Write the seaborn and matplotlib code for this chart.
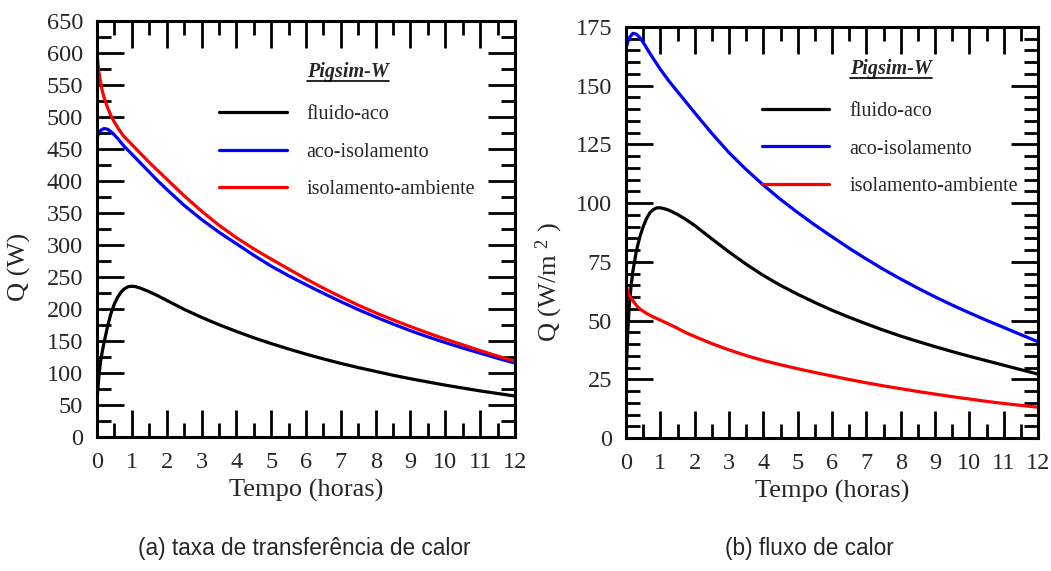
import numpy as np
import pandas as pd
import matplotlib
matplotlib.use("Agg")
import matplotlib.pyplot as plt
from matplotlib.lines import Line2D
from matplotlib.ticker import MultipleLocator
import seaborn as sns

# ---------------- data ----------------
series_names = ["fluido-aco", "aco-isolamento", "isolamento-ambiente"]
series_colors = ["#000000", "#0000ff", "#ff0000"]

# (a) heat transfer rate, Q (W)
t_a_black = [0, 0.05, 0.1, 0.15, 0.2, 0.3, 0.4, 0.5, 0.6, 0.7, 0.8, 0.9, 1.0, 1.1, 1.25, 1.5, 1.75,
             2, 2.5, 3, 3.5, 4, 4.5, 5, 5.5, 6, 6.5, 7, 7.5, 8, 8.5, 9, 9.5, 10, 10.5, 11, 11.5, 12]
q_a_black = [58, 92, 117, 133, 147, 172, 193, 208, 219, 227, 232, 235, 235.5, 235, 232.5, 227, 220.5,
             213.5, 199.5, 187, 175.5, 165, 155, 146, 137.5, 129.5, 122, 115, 108.5, 102.5, 96.5, 91, 86, 81, 76.5, 72, 68, 64]
t_a_blue = [0, 0.05, 0.1, 0.2, 0.3, 0.4, 0.5, 0.6, 0.75, 1, 1.25, 1.5, 1.75, 2, 2.5, 3, 3.5, 4, 4.5,
            5, 5.5, 6, 6.5, 7, 7.5, 8, 8.5, 9, 9.5, 10, 10.5, 11, 11.5, 12]
q_a_blue = [467, 474, 479, 482, 481, 477, 472, 466, 456, 442, 428, 414, 400, 387, 362, 340, 320, 302, 284,
            267, 252, 238, 224.5, 211.5, 199, 187.5, 176.5, 166, 156.5, 147.5, 139, 131, 123, 115.5]
t_a_red = [0, 0.025, 0.05, 0.1, 0.15, 0.2, 0.3, 0.4, 0.5, 0.6, 0.75, 1, 1.25, 1.5, 1.75, 2, 2.5, 3, 3.5,
           4, 4.5, 5, 5.5, 6, 6.5, 7, 7.5, 8, 8.5, 9, 9.5, 10, 10.5, 11, 11.5, 12]
q_a_red = [603, 585, 572, 555, 541, 531, 515, 502, 492, 483, 471, 457, 443, 429, 416, 403, 377, 353, 331,
           311.5, 294, 278, 262.5, 247, 232.5, 219, 206, 194, 183, 172.5, 162.5, 153, 144, 135, 126.5, 118.5]

# (b) heat flux, Q (W/m2)
t_b_black = [0, 0.05, 0.1, 0.15, 0.2, 0.3, 0.4, 0.5, 0.6, 0.7, 0.8, 0.9, 1, 1.1, 1.25, 1.5, 1.75, 2, 2.5,
             3, 3.5, 4, 4.5, 5, 5.5, 6, 6.5, 7, 7.5, 8, 8.5, 9, 9.5, 10, 10.5, 11, 11.5, 12]
q_b_black = [25, 45, 57, 65, 71, 79.5, 85.5, 90, 93.5, 96, 97.3, 98, 98, 97.7, 97, 95.2, 93, 90.5, 84.8,
             79.2, 74, 69.2, 65, 61.2, 57.7, 54.4, 51.4, 48.6, 45.9, 43.4, 41.1, 38.9, 36.8, 34.8, 32.9, 31, 29.1, 27.2]
t_b_blue = [0, 0.05, 0.1, 0.2, 0.3, 0.4, 0.5, 0.75, 1, 1.25, 1.5, 1.75, 2, 2.5, 3, 3.5, 4, 4.5, 5, 5.5,
            6, 6.5, 7, 7.5, 8, 8.5, 9, 9.5, 10, 10.5, 11, 11.5, 12]
q_b_blue = [166, 168.5, 170.5, 172.3, 172, 170.5, 168.5, 162.5, 157, 152, 147.5, 143, 138.5, 129.7, 121.5,
            114.3, 107.7, 101.6, 96, 90.7, 85.7, 80.8, 76.2, 71.8, 67.7, 63.8, 60.1, 56.6, 53.3, 50.1, 47.1, 44, 41]
t_b_red = [0, 0.03, 0.07, 0.1, 0.2, 0.3, 0.4, 0.6, 0.8, 1, 1.25, 1.5, 1.75, 2, 2.5, 3, 3.5, 4, 4.5, 5,
           5.5, 6, 6.5, 7, 7.5, 8, 8.5, 9, 9.5, 10, 10.5, 11, 11.5, 12]
q_b_red = [66.5, 63.5, 61.5, 60.5, 58.5, 56.5, 55, 53, 51.5, 50.2, 48.5, 46.7, 44.8, 43.2, 40.2, 37.5,
           35.1, 33, 31.2, 29.5, 27.9, 26.4, 24.9, 23.5, 22.2, 21, 19.8, 18.7, 17.6, 16.6, 15.6, 14.7, 13.9, 13.1]

x_label = "Tempo (horas)"
y_label_a = "Q (W)"
y_label_b = "Q (W/m $^{2}$ )"
caption_a = "(a) taxa de transferência de calor"
caption_b = "(b) fluxo de calor"
legend_title = "Pigsim-W"


def long_df(ts, qs):
    frames = []
    for name, t, q in zip(series_names, ts, qs):
        frames.append(pd.DataFrame({"t": t, "q": q, "serie": name}))
    return pd.concat(frames, ignore_index=True)


df_a = long_df([t_a_black, t_a_blue, t_a_red], [q_a_black, q_a_blue, q_a_red])
df_b = long_df([t_b_black, t_b_blue, t_b_red], [q_b_black, q_b_blue, q_b_red])

# ---------------- style ----------------
sns.set_theme(style="ticks")
plt.rcParams["font.family"] = ["Liberation Serif", "DejaVu Serif"]
plt.rcParams["mathtext.fontset"] = "custom"
plt.rcParams["mathtext.rm"] = "Liberation Serif"
plt.rcParams["mathtext.it"] = "Liberation Serif:italic"

W, H = 1051, 571
fig = plt.figure(figsize=(W / 100, H / 100), dpi=100)
ax_a = fig.add_axes([97 / W, 1 - 437 / H, 418 / W, 416 / H])
ax_b = fig.add_axes([626 / W, 1 - 438 / H, 412 / W, 411 / H])

palette = dict(zip(series_names, series_colors))

TICK_FS = 17.5
LABEL_FS = 19
LEG_FS = 14.5


def style_axes(ax, ymax, ymajor, yminor):
    ax.set_xlim(0, 12)
    ax.set_ylim(0, ymax)
    ax.xaxis.set_major_locator(MultipleLocator(1))
    ax.xaxis.set_minor_locator(MultipleLocator(0.5))
    ax.yaxis.set_major_locator(MultipleLocator(ymajor))
    ax.yaxis.set_minor_locator(MultipleLocator(yminor))
    ax.tick_params(which="both", direction="in", top=True, right=True,
                   color="black")
    ax.tick_params(which="major", length=19.5, width=2.0, labelsize=TICK_FS)
    ax.tick_params(axis="y", which="major", pad=10)
    ax.tick_params(axis="x", which="major", pad=11)
    ax.tick_params(which="minor", length=10, width=2.0)
    for s in ax.spines.values():
        s.set_linewidth(2.2)
        s.set_color("black")
    ax.set_xlabel(x_label, fontsize=LABEL_FS, labelpad=4)


for ax, df, ymax, ymaj, ymin, ylab in [
    (ax_a, df_a, 650, 50, 25, y_label_a),
    (ax_b, df_b, 175, 25, 5, y_label_b),
]:
    sns.lineplot(data=df, x="t", y="q", hue="serie", palette=palette,
                 hue_order=series_names, linewidth=2.3, ax=ax,
                 estimator=None, sort=False)
    style_axes(ax, ymax, ymaj, ymin)
    ax.set_ylabel(ylab, fontsize=LABEL_FS)

ax_a.yaxis.set_label_coords(-0.158, 0.41)
ax_b.yaxis.set_label_coords(-0.148, 0.38)

# legends
titles = []
for ax, lx, ly, tx, ty in [
    (ax_a, 0.292, 0.798, 0.502, 0.866),
    (ax_b, 0.330, 0.818, 0.544, 0.886),
]:
    handles = [Line2D([], [], color=c, lw=2.3) for c in series_colors]
    ax.legend(handles, series_names, loc="upper left", bbox_to_anchor=(lx, ly),
              frameon=False, fontsize=LEG_FS, handlelength=3.35,
              handletextpad=1.0, labelspacing=0.92, borderpad=0,
              borderaxespad=0)
    titles.append(ax.text(tx, ty, legend_title, transform=ax.transAxes,
                          fontsize=LEG_FS, fontweight="bold", fontstyle="italic",
                          ha="left", va="baseline"))

# captions
fig.text(304 / W, 1 - 548 / H, caption_a, ha="center", va="center",
         fontsize=16.3, family=["Liberation Sans", "DejaVu Sans"])
fig.text(809 / W, 1 - 548 / H, caption_b, ha="center", va="center",
         fontsize=16.3, family=["Liberation Sans", "DejaVu Sans"])

# underline legend titles
fig.canvas.draw()
renderer = fig.canvas.get_renderer()
for t in titles:
    bb = t.get_window_extent(renderer)
    y = bb.y0 + 1
    fig.add_artist(Line2D([bb.x0, bb.x1], [y, y], transform=None,
                          color="black", lw=1.2))

fig.savefig("out.png", dpi=100)
